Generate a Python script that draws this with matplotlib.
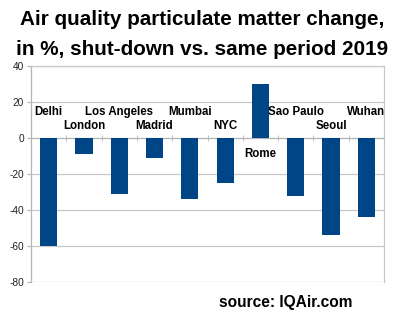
import numpy as np
import matplotlib.pyplot as plt
from matplotlib.ticker import FixedLocator

plt.rcParams['font.family'] = ['Liberation Sans', 'DejaVu Sans']

cities = ["Delhi", "London", "Los Angeles", "Madrid", "Mumbai",
          "NYC", "Rome", "Sao Paulo", "Seoul", "Wuhan"]
change = [-60, -9, -31, -11, -34, -25, 30, -32, -54, -44]
# label heights (data units) as placed in the original
label_y = [14.5, 6.7, 14.5, 6.7, 14.5, 6.7, -8.9, 14.5, 6.7, 14.5]
yticks = [40, 20, 0, -20, -40, -60, -80]

fig = plt.figure(figsize=(4, 3.23), dpi=100)
ax = fig.add_axes([0.0775, 0.127, 0.8825, 0.669])

x = np.arange(len(cities))
ax.bar(x, change, width=0.49, color="#004586", zorder=3)

for i, name in enumerate(cities):
    ax.text(x[i], label_y[i], name, ha="center", va="center",
            fontsize=8.3, fontweight="bold", zorder=4)

ax.set_xlim(-0.5, len(cities) - 0.5)
ax.set_ylim(-80, 40)
ax.set_yticks(yticks)
ax.set_yticklabels([str(v) for v in yticks], fontsize=7.3, color="#222222")
ax.yaxis.grid(True, color="#c8c8c8", linewidth=0.9, zorder=0)
ax.tick_params(axis="y", length=3, color="#b3b3b3", pad=2)

# x axis at zero with category boundary ticks
ax.spines["bottom"].set_position(("data", 0))
ax.spines["bottom"].set_color("#b3b3b3")
ax.set_xticks([])
ax.xaxis.set_minor_locator(FixedLocator(np.arange(0.5, len(cities) - 1, 1.0)))
ax.tick_params(axis="x", which="minor", direction="inout", length=5,
               color="#b3b3b3", labelbottom=False)
for s in ["left", "right", "top"]:
    ax.spines[s].set_color("#c8c8c8")
    ax.spines[s].set_linewidth(0.9)
ax.spines["left"].set_color("#b3b3b3")

fig.text(0.506, 0.94, "Air quality particulate matter change,", ha="center",
         va="center", fontsize=14.9, fontweight="bold")
fig.text(0.506, 0.848, "in %, shut-down vs. same period 2019", ha="center",
         va="center", fontsize=14.9, fontweight="bold")
fig.text(0.715, 0.065, "source: IQAir.com", ha="center", va="center",
         fontsize=11.2, fontweight="bold")

fig.savefig("out.png", dpi=100)
